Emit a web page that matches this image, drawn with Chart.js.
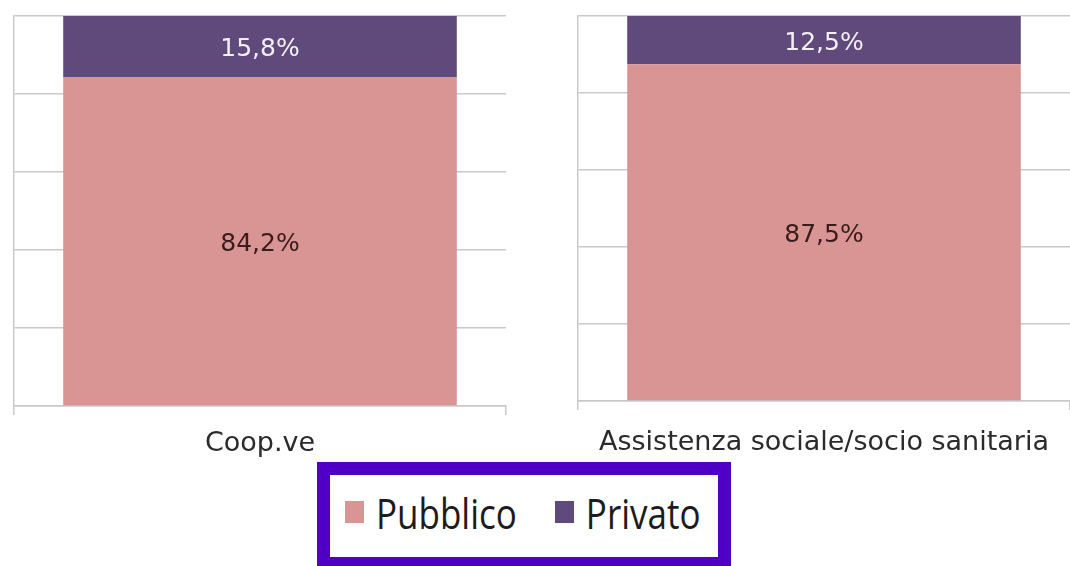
<!DOCTYPE html>
<html>
<head>
<meta charset="utf-8">
<script src="https://cdn.jsdelivr.net/npm/chart.js@4"></script>
<style>
  body { margin: 0; background: #fff; }
  #wrap { position: relative; width: 1070px; height: 566px; overflow: hidden; }
  .box { position: absolute; top: 0; width: 530px; height: 460px; }
  #legend {
    position: absolute; left: 317px; top: 462px; width: 414px; height: 108px;
    border: 13px solid #5000c4; background: #fff; box-sizing: border-box;
    display: flex; align-items: center; padding: 0 0 8px 15px;
    font-family: 'Open Sans', sans-serif;
  }
  .item { display: flex; align-items: center; font-size: 35px; color: #1c1c1c; }
  .item + .item { margin-left: 38px; }
  .swatch { width: 19px; height: 22px; margin-right: 12px; }
  .item span.txt { display: inline-block; transform: scaleY(1.22); }
</style>
</head>
<body>
<div id="wrap">
  <div class="box" style="left:0"><canvas id="chartCoop"></canvas></div>
  <div class="box" style="left:540px"><canvas id="chartAss"></canvas></div>
  <div id="legend"></div>
</div>
<script>
const categories = ['Coop.ve', 'Assistenza sociale/socio sanitaria'];
const seriesNames = ['Pubblico', 'Privato'];
const pubblico = [84.2, 87.5];
const privato = [15.8, 12.5];
const yTicks = [0, 20, 40, 60, 80, 100];

const COLORS = { Pubblico: '#d99594', Privato: '#604a7b' };
const LABEL_COLORS = { Pubblico: '#3a1c1c', Privato: '#f3eef8' };

// percent text inside each stacked segment
const valueLabels = {
  id: 'valueLabels',
  afterDatasetsDraw(chart) {
    const ctx = chart.ctx;
    chart.data.datasets.forEach((ds, i) => {
      chart.getDatasetMeta(i).data.forEach((bar, j) => {
        const { x, y, base } = bar.getProps(['x', 'y', 'base'], true);
        ctx.save();
        ctx.font = '25px "DejaVu Sans"';
        ctx.fillStyle = LABEL_COLORS[ds.label];
        ctx.textAlign = 'center';
        ctx.textBaseline = 'middle';
        ctx.fillText(ds.data[j].toFixed(1).replace('.', ',') + '%', x, (y + base) / 2 + 3);
        ctx.restore();
      });
    });
  }
};

function makeChart(id, idx, pad, axisHeight, labelPad) {
  const ctx = document.getElementById(id).getContext('2d');
  return new Chart(ctx, {
    type: 'bar',
    data: {
      labels: [categories[idx]],
      datasets: [
        { label: seriesNames[0], data: [pubblico[idx]], backgroundColor: COLORS.Pubblico },
        { label: seriesNames[1], data: [privato[idx]], backgroundColor: COLORS.Privato }
      ]
    },
    options: {
      responsive: true,
      maintainAspectRatio: false,
      animation: false,
      layout: { padding: pad },
      datasets: { bar: { barPercentage: 0.8, categoryPercentage: 1 } },
      plugins: { legend: { display: false }, tooltip: { enabled: false } },
      scales: {
        x: {
          stacked: true,
          offset: true,
          afterFit: s => { s.height = axisHeight; },
          ticks: { color: '#2b2b2b', padding: labelPad, font: { family: 'DejaVu Sans', size: 27 } },
          grid: { drawOnChartArea: false, tickLength: 9, color: '#c9c9c9', lineWidth: 1.5 },
          border: { color: '#c9c9c9', width: 1.5 }
        },
        y: {
          stacked: true,
          min: 0,
          max: 100,
          afterBuildTicks: s => { s.ticks = yTicks.map(v => ({ value: v })); },
          ticks: { display: false },
          grid: { drawTicks: false, color: '#c9c9c9', lineWidth: 1.5 },
          border: { color: '#c9c9c9', width: 1.5 }
        }
      }
    },
    plugins: [valueLabels]
  });
}

makeChart('chartCoop', 0, { left: 14, right: 24, top: 16, bottom: 0 }, 54, 13);
makeChart('chartAss', 1, { left: 38, right: 0, top: 16, bottom: 0 }, 59, 17);

// legend
const legend = document.getElementById('legend');
seriesNames.forEach(name => {
  const item = document.createElement('div');
  item.className = 'item';
  item.innerHTML = '<span class="swatch" style="background:' + COLORS[name] + '"></span><span class="txt">' + name + '</span>';
  legend.appendChild(item);
});
</script>
</body>
</html>
